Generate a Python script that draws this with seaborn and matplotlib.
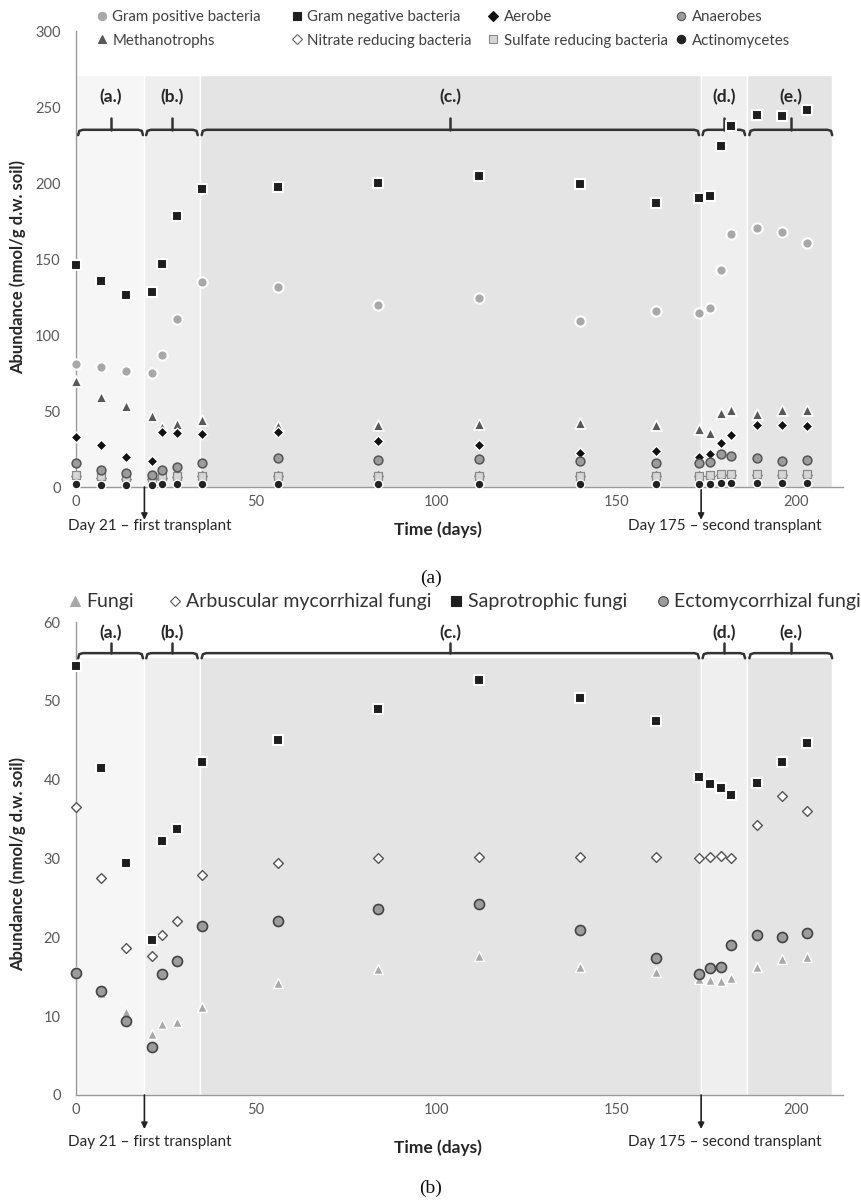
import numpy as np
import pandas as pd
import seaborn as sns
import matplotlib
matplotlib.use("Agg")
import matplotlib.pyplot as plt
from matplotlib.lines import Line2D

# sampling days (same for both panels)
days = [0, 7, 14, 21, 24, 28, 35, 56, 84, 112, 140, 161, 173, 176, 179, 182, 189, 196, 203]

# panel (a) - bacteria
gram_pos = [81, 79, 76.5, 75, 87, 110.5, 135, 131.5, 119.5, 124.5, 109.5, 116, 114.5, 117.5, 143, 166.5, 170.5, 168, 160.5]
gram_neg = [146, 135.5, 126, 128, 147, 178, 196, 197.5, 200, 204.5, 199.5, 187, 190, 191.5, 224.5, 237.5, 245, 244, 248]
aerobe = [33, 27.5, 20, 17, 36.5, 35.5, 35, 36, 30, 27.5, 22.5, 23.5, 20, 21.5, 29, 34, 40.5, 40.5, 40]
anaerobes = [15.5, 11, 9, 8, 11, 13, 16, 19, 18, 18.5, 17, 16, 16, 16.5, 22, 20.5, 19, 17, 18]
methanotrophs = [70, 59, 53.5, 46.5, 39.5, 41.5, 44, 40, 41, 41.5, 42, 40.5, 38, 35.5, 49, 50.5, 48, 50.5, 50.5]
nitrate = [7, 6, 5, 5, 6, 6.5, 7, 7, 7, 7, 7, 7, 7, 7, 8, 8, 8, 8, 8]
sulfate = [8, 7, 6.5, 6, 7, 7.5, 7.5, 7.5, 7.5, 7.5, 7.5, 7.5, 7.5, 8, 8.5, 8.5, 8.5, 8.5, 8.5]
actino = [2, 1.5, 1.5, 1.5, 2, 2, 2, 2, 2, 2, 2, 2, 2, 2, 2.5, 2.5, 2.5, 2.5, 2.5]

# panel (b) - fungi
fungi = [15.6, 13.0, 10.5, 7.8, 9.0, 9.2, 11.2, 14.2, 16.0, 17.6, 16.3, 15.6, 14.7, 14.6, 14.5, 14.9, 16.2, 17.2, 17.5]
arbuscular = [36.5, 27.5, 18.6, 17.6, 20.3, 22.1, 27.9, 29.4, 30.1, 30.2, 30.2, 30.2, 30.1, 30.2, 30.3, 30.1, 34.2, 37.9, 36.0]
saprotrophic = [54.4, 41.5, 29.4, 19.6, 32.2, 33.7, 42.3, 45.0, 49.0, 52.7, 50.3, 47.4, 40.3, 39.4, 39.0, 38.1, 39.6, 42.2, 44.7]
ectomyc = [15.5, 13.2, 9.4, 6.1, 15.4, 17.0, 21.4, 22.1, 23.6, 24.2, 20.9, 17.4, 15.4, 16.1, 16.2, 19.0, 20.3, 20.0, 20.5]

band_edges = [0, 19, 34.3, 173.6, 186.4, 210]
band_names = ["(a.)", "(b.)", "(c.)", "(d.)", "(e.)"]
band_colors = ["#f6f6f6", "#eeeeee", "#e4e4e4", "#efefef", "#e4e4e4"]

# name, values, marker, face, edge, size, lw
bact = [
    ("Gram positive bacteria", gram_pos, "o", "#a8a8a8", "white", 55, 1.5),
    ("Methanotrophs", methanotrophs, "^", "#585858", "white", 60, 1.2),
    ("Gram negative bacteria", gram_neg, "s", "#1e1e1e", "white", 55, 1.5),
    ("Nitrate reducing bacteria", nitrate, "D", "white", "#666666", 22, 1.0),
    ("Aerobe", aerobe, "D", "#111111", "white", 30, 1.0),
    ("Sulfate reducing bacteria", sulfate, "s", "#d6d6d6", "#8a8a8a", 34, 0.9),
    ("Anaerobes", anaerobes, "o", "#9c9c9c", "#555555", 40, 1.1),
    ("Actinomycetes", actino, "o", "#222222", "white", 40, 1.0),
]
fung = [
    ("Fungi", fungi, "^", "#a8a8a8", "white", 50, 1.0),
    ("Arbuscular mycorrhizal fungi", arbuscular, "D", "white", "#555555", 25, 1.0),
    ("Saprotrophic fungi", saprotrophic, "s", "#1e1e1e", "white", 55, 1.5),
    ("Ectomycorrhizal fungi", ectomyc, "o", "#9c9c9c", "#444444", 52, 1.2),
]

sns.set_theme(style="white")
plt.rcParams["font.family"] = ["Lato", "DejaVu Sans"]

W, H = 862, 1203
fig = plt.figure(figsize=(W / 100, H / 100), dpi=100)
ax_a = fig.add_axes([76 / W, 1 - 487 / H, 767 / W, 456 / H])
ax_b = fig.add_axes([76 / W, 1 - 1095 / H, 767 / W, 473 / H])


def brace(ax, x0, x1, yb, ye, yt, ly, label):
    e = 1.3
    xc = (x0 + x1) / 2
    xs = [x0, x0 + e * 0.25, x0 + e, x1 - e, x1 - e * 0.25, x1]
    ys = [ye, yb - (yb - ye) * 0.2, yb, yb, yb - (yb - ye) * 0.2, ye]
    ax.plot(xs, ys, color="#333333", lw=1.8, solid_joinstyle="round", clip_on=False, zorder=3)
    ax.plot([xc, xc], [yb, yt], color="#333333", lw=1.8, clip_on=False, zorder=3)
    ax.text(xc, ly, label, ha="center", va="center", fontsize=12.5,
            fontweight="bold", color="#262626")


def draw_panel(ax, groups, ymax, ystep, band_top, br, arrow_len, day_y, time_y):
    for i in range(len(band_colors)):
        ax.axvspan(band_edges[i], band_edges[i + 1], 0, band_top / ymax,
                   color=band_colors[i], ec="white", lw=1, zorder=0)
    for name, vals, m, fc, ec, s, lw in groups:
        sns.scatterplot(x=days, y=vals, ax=ax, marker=m, color=fc, edgecolor=ec,
                        s=s, linewidth=lw, clip_on=False, zorder=4, legend=False)
    gaps = [(0.6, -0.4), (0.5, -0.5), (0.6, -0.6), (0.4, -0.6), (0.6, 0)]
    for i, (g0, g1) in enumerate(gaps):
        brace(ax, band_edges[i] + g0, band_edges[i + 1] + g1, *br, band_names[i])
    ax.set_xlim(0, 213)
    ax.set_ylim(0, ymax)
    ax.set_xticks([0, 50, 100, 150, 200])
    ax.set_yticks(np.arange(0, ymax + 1, ystep))
    ax.tick_params(length=0, labelsize=10.5, labelcolor="#595959")
    ax.tick_params(axis="y", pad=11)
    ax.tick_params(axis="x", pad=6)
    for sp in ["top", "right"]:
        ax.spines[sp].set_visible(False)
    for sp in ["left", "bottom"]:
        ax.spines[sp].set_color("#9a9a9a")
        ax.spines[sp].set_linewidth(1)
    ax.set_facecolor("white")
    tr = ax.get_xaxis_transform()
    for xd, txt, dx in [(19, "Day 21 \u2013 first transplant", 1.5),
                        (173.6, "Day 175 \u2013 second transplant", 6.7)]:
        ax.annotate("", xy=(xd, -arrow_len), xycoords=tr, xytext=(xd, 0), textcoords=tr,
                    arrowprops=dict(arrowstyle="-|>", color="#222222", lw=1.2,
                                    mutation_scale=9, shrinkA=0, shrinkB=0),
                    annotation_clip=False)
        ax.text(xd + dx, day_y, txt, transform=tr, ha="center", va="center",
                fontsize=11, color="#262626")
    ax.text(100.5, time_y, "Time (days)", transform=tr, ha="center", va="center",
            fontsize=12.5, fontweight="bold", color="#262626")


draw_panel(ax_a, bact, 300, 50, 271, (235, 231.5, 243, 256.5), 0.072, -0.086, -0.093)
draw_panel(ax_b, fung, 60, 10, 55.5, (56.05, 55.4, 57.3, 58.6), 0.072, -0.099, -0.112)

fig.text(18 / W, 1 - 267 / H, "Abundance (nmol/g d.w. soil)", rotation=90, ha="center",
         va="center", fontsize=12, fontweight="bold", color="#262626")
fig.text(18 / W, 1 - 864 / H, "Abundance (nmol/g d.w. soil)", rotation=90, ha="center",
         va="center", fontsize=12, fontweight="bold", color="#262626")

fig.text(431 / W, 1 - 578 / H, "(a)", ha="center", va="center", fontsize=14,
         family="Liberation Serif", color="#111111")
fig.text(431 / W, 1 - 1188 / H, "(b)", ha="center", va="center", fontsize=14,
         family="Liberation Serif", color="#111111")


def handle(m, fc, ec, ms):
    return Line2D([], [], marker=m, linestyle="none", markersize=ms,
                  markerfacecolor=fc, markeredgecolor=ec if ec != "white" else fc,
                  markeredgewidth=0.8)


# legend (a): four columns of two rows
col_x = [102, 297, 493, 681]
for c in range(4):
    items = bact[2 * c:2 * c + 2]
    hs = [handle(m, fc, ec, 6 if m != "D" else 5) for _, _, m, fc, ec, _, _ in items]
    lg = fig.legend(hs, [it[0] for it in items], loc="center left",
                    bbox_to_anchor=((col_x[c] - 6) / W, 1 - 29 / H), frameon=False,
                    fontsize=10.8, handlelength=0.8, handletextpad=0.3, borderpad=0,
                    borderaxespad=0, labelspacing=0.62, labelcolor="#404040")

# legend (b): one row
fx = [75, 175, 456, 663]
for c, (name, _, m, fc, ec, _, _) in enumerate(fung):
    fig.legend([handle(m, fc, ec, 7 if m != "D" else 5.5)], [name], loc="center left",
               bbox_to_anchor=((fx[c] - 6) / W, 1 - 602 / H), frameon=False,
               fontsize=14, handlelength=0.6, handletextpad=0.3, borderpad=0,
               borderaxespad=0, labelcolor="#333333")

fig.savefig("out.png", dpi=100)
